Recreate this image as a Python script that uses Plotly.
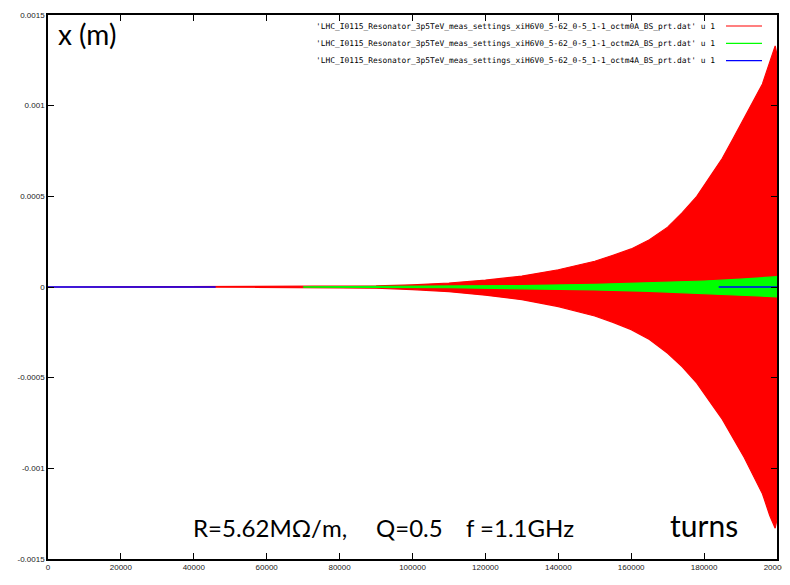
import plotly.graph_objects as go

# ---------------- data ----------------
# red: octupole 0A  (envelope of the oscillation, metres)
red_turns = [0, 20000, 40000, 60000, 80000, 90000, 100000, 110000, 120000, 130000,
             140000, 150000, 155000, 160000, 165000, 170000, 174000, 178000, 182000,
             185000, 188000, 191000, 194000, 196000, 198000, 199500, 200000]
red_upper = [0, 0.5e-6, 1e-6, 2e-6, 4e-6, 6e-6, 1.2e-5, 2.2e-5, 3.8e-5, 6.0e-5,
             9.5e-5, 1.42e-4, 1.75e-4, 2.1e-4, 2.6e-4, 3.3e-4, 4.1e-4, 5.0e-4, 6.2e-4,
             7.1e-4, 8.2e-4, 9.3e-4, 1.04e-3, 1.12e-3, 1.24e-3, 1.33e-3, 1.28e-3]
red_lower = [0, -0.5e-6, -1e-6, -2e-6, -5e-6, -7e-6, -1.4e-5, -2.6e-5, -4.5e-5, -7e-5,
             -1.08e-4, -1.6e-4, -1.95e-4, -2.35e-4, -2.9e-4, -3.65e-4, -4.4e-4, -5.3e-4,
             -6.45e-4, -7.3e-4, -8.35e-4, -9.4e-4, -1.06e-3, -1.14e-3, -1.26e-3,
             -1.33e-3, -1.28e-3]

# green: octupole 2A
green_turns = [70000, 90000, 110000, 130000, 150000, 165000, 180000, 190000, 200000]
green_upper = [1e-6, 2e-6, 4e-6, 8e-6, 1.5e-5, 2.2e-5, 3.3e-5, 4.3e-5, 5.7e-5]
green_lower = [-1e-6, -2e-6, -4e-6, -9e-6, -1.6e-5, -2.4e-5, -3.5e-5, -4.5e-5, -5.4e-5]

# blue: octupole 4A (visible segments)
blue_turns = [0, 46000, None, 184000, 200000]
blue_x = [0, 0, None, 0, 0]

legend_labels = [
    "'LHC_I0115_Resonator_3p5TeV_meas_settings_xiH6V0_5-62_0-5_1-1_octm0A_BS_prt.dat' u 1",
    "'LHC_I0115_Resonator_3p5TeV_meas_settings_xiH6V0_5-62_0-5_1-1_octm2A_BS_prt.dat' u 1",
    "'LHC_I0115_Resonator_3p5TeV_meas_settings_xiH6V0_5-62_0-5_1-1_octm4A_BS_prt.dat' u 1",
]
legend_colors = ["#ff0000", "#00ff00", "#0000ff"]

x_ticks = [0, 20000, 40000, 60000, 80000, 100000, 120000, 140000, 160000, 180000, 200000]
y_ticks = [0.0015, 0.001, 0.0005, 0, -0.0005, -0.001, -0.0015]
y_tick_text = ["0.0015", "0.001", "0.0005", "0", "-0.0005", "-0.001", "-0.0015"]

# ---------------- figure ----------------
fig = go.Figure()

fig.add_trace(go.Scatter(
    x=red_turns + red_turns[::-1], y=red_upper + red_lower[::-1],
    fill="toself", fillcolor="#ff0000", mode="lines",
    line=dict(color="#ff0000", width=1.2), hoverinfo="skip", showlegend=False))

fig.add_trace(go.Scatter(
    x=green_turns + green_turns[::-1], y=green_upper + green_lower[::-1],
    fill="toself", fillcolor="#00ff00", mode="lines",
    line=dict(color="#00ff00", width=1.2), hoverinfo="skip", showlegend=False))

fig.add_trace(go.Scatter(
    x=blue_turns, y=blue_x, mode="lines",
    line=dict(color="#0000ff", width=1.3), hoverinfo="skip", showlegend=False,
    connectgaps=False))

# page body has an 8px margin; the figure is placed accordingly
OFF = 8
W, H = 790 - OFF, 585 - OFF
ml, mr, mt, mb = 48 - OFF, 13, 15 - OFF, 26
pw, ph = W - ml - mr, H - mt - mb


def px2paper_x(px):
    return (px - OFF - ml) / pw


def px2paper_y(py):
    return (H - mb - (py - OFF)) / ph


annotations = []
shapes = []
legend_rows = [26, 43.3, 60.7]
for lab, col, ry in zip(legend_labels, legend_colors, legend_rows):
    annotations.append(dict(
        x=px2paper_x(717), y=px2paper_y(ry), xref="paper", yref="paper",
        text=lab, showarrow=False, xanchor="right", yanchor="middle",
        font=dict(family="DejaVu Sans Mono", size=7.9, color="#000000")))
    shapes.append(dict(
        type="line", xref="paper", yref="paper",
        x0=px2paper_x(726), x1=px2paper_x(762),
        y0=px2paper_y(ry), y1=px2paper_y(ry),
        line=dict(color=col, width=1.2)))

big_font = "Lato, 'Open Sans', sans-serif"
annotations.append(dict(
    x=px2paper_x(56), y=px2paper_y(34), xref="paper", yref="paper",
    text="x (m)", showarrow=False, xanchor="left", yanchor="middle",
    font=dict(family=big_font, size=28, color="#000000")))
annotations.append(dict(
    x=px2paper_x(191), y=px2paper_y(527), xref="paper", yref="paper",
    text="R=5.62MΩ/m,", showarrow=False, xanchor="left", yanchor="middle",
    font=dict(family=big_font, size=24, color="#000000")))
annotations.append(dict(
    x=px2paper_x(374), y=px2paper_y(527), xref="paper", yref="paper",
    text="Q=0.5", showarrow=False, xanchor="left", yanchor="middle",
    font=dict(family=big_font, size=24, color="#000000")))
annotations.append(dict(
    x=px2paper_x(464), y=px2paper_y(527), xref="paper", yref="paper",
    text="f =1.1GHz", showarrow=False, xanchor="left", yanchor="middle",
    font=dict(family=big_font, size=24, color="#000000")))
annotations.append(dict(
    x=px2paper_x(704), y=px2paper_y(525), xref="paper", yref="paper",
    text="turns", showarrow=False, xanchor="center", yanchor="middle",
    font=dict(family=big_font, size=30, color="#000000")))

tick_font = dict(family="Liberation Sans", size=8, color="#222222")
fig.update_layout(
    width=W, height=H,
    margin=dict(l=ml, r=mr, t=mt, b=mb, pad=0, autoexpand=False),
    paper_bgcolor="white", plot_bgcolor="white",
    showlegend=False,
    annotations=annotations, shapes=shapes,
    xaxis=dict(range=[0, 200000], tickvals=x_ticks, ticktext=[str(v) for v in x_ticks],
               ticks="inside", ticklen=6, tickcolor="black", tickwidth=1.2,
               ticklabeloverflow="allow", automargin=False,
               showline=True, linecolor="black", linewidth=1.5, mirror="ticks",
               showgrid=False, zeroline=False, tickfont=tick_font),
    yaxis=dict(range=[-0.0015, 0.0015], tickvals=y_ticks, ticktext=y_tick_text,
               ticks="inside", ticklen=6, tickcolor="black", tickwidth=1.2,
               ticklabeloverflow="allow", automargin=False,
               showline=True, linecolor="black", linewidth=1.5, mirror="ticks",
               showgrid=False, zeroline=False, tickfont=tick_font),
)

fig.write_html("out.html")
